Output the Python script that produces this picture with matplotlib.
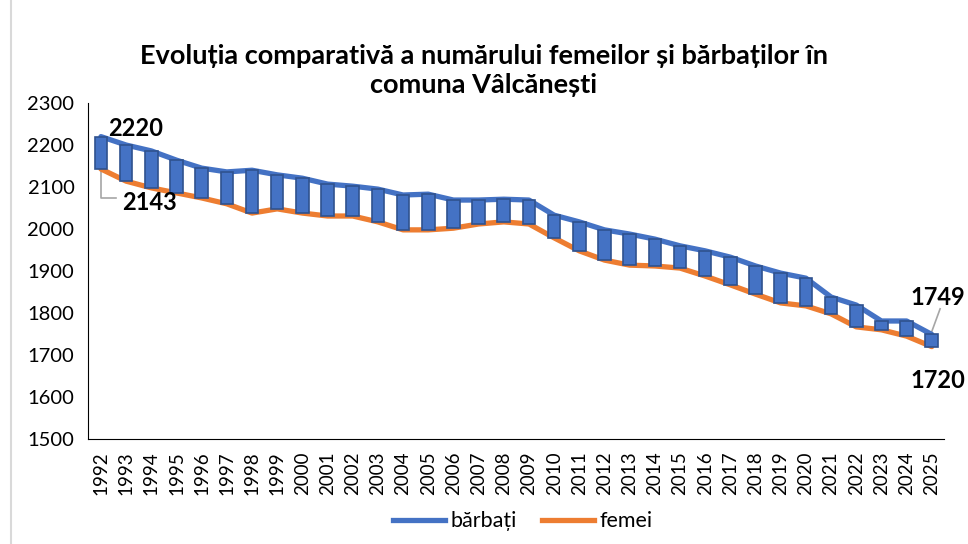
import numpy as np
import matplotlib.pyplot as plt
from matplotlib.lines import Line2D
from matplotlib.patches import Rectangle

plt.rcParams['font.family'] = ['Lato', 'DejaVu Sans']

# date
ani = list(range(1992, 2026))
barbati = [2220, 2200, 2186, 2164, 2145, 2136, 2140, 2129, 2121, 2107, 2102, 2095,
           2081, 2083, 2069, 2069, 2071, 2069, 2033, 2017, 1998, 1988, 1976, 1960,
           1948, 1933, 1912, 1895, 1883, 1838, 1819, 1781, 1781, 1749]
femei = [2143, 2114, 2098, 2086, 2074, 2060, 2038, 2048, 2038, 2031, 2031, 2017,
         1998, 1998, 2002, 2012, 2017, 2012, 1979, 1948, 1926, 1914, 1912, 1907,
         1888, 1867, 1845, 1824, 1817, 1798, 1767, 1760, 1745, 1720]

albastru = '#4472C4'
portocaliu = '#ED7D31'

fig = plt.figure(figsize=(9.68, 5.44), dpi=100)
ax = fig.add_axes([0.0913, 0.193, 0.8843, 0.6176])

x = np.arange(len(ani))
ax.plot(x, barbati, color=albastru, lw=3.8, solid_capstyle='round', zorder=2)
ax.plot(x, femei, color=portocaliu, lw=3.8, solid_capstyle='round', zorder=2)

# bare up/down intre cele doua serii
b = np.array(barbati)
f = np.array(femei)
ax.bar(x, b - f, bottom=f, width=0.5, color=albastru, edgecolor='#2F528F', lw=1.2, zorder=3)

ax.set_xlim(-0.5, len(ani) - 0.5)
ax.set_ylim(1500, 2300)
ax.set_yticks(range(1500, 2301, 100))
ax.set_xticks(x)
ax.set_xticklabels(ani, rotation=90, fontsize=13.5)
ax.tick_params(axis='y', labelsize=14.5, length=0, pad=10)
ax.tick_params(axis='x', length=0, pad=9)
ax.spines['top'].set_visible(False)
ax.spines['right'].set_visible(False)
ax.spines['left'].set_color('black')
ax.spines['bottom'].set_color('black')

# etichete
ax.text(0.28, 2240, '2220', fontsize=17, fontweight='bold', va='center', ha='left')
ax.plot([0, 0, 0.6], [femei[0], 2074, 2074], color='#A6A6A6', lw=1.2, zorder=1)
ax.text(0.83, 2062, '2143', fontsize=17, fontweight='bold', va='center', ha='left')
ax.plot([33, 33.33], [1756, 1810], color='#A6A6A6', lw=1.2, zorder=1)
ax.text(32.15, 1838, '1749', fontsize=17, fontweight='bold', va='center', ha='left')
ax.text(32.15, 1640, '1720', fontsize=17, fontweight='bold', va='center', ha='left')

fig.text(0.5, 0.871, 'Evoluția comparativă a numărului femeilor și bărbaților în\ncomuna Vâlcănești',
         ha='center', va='center', fontsize=19.5, fontweight='bold', linespacing=1.25)

handles = [Line2D([], [], color=albastru, lw=3.8), Line2D([], [], color=portocaliu, lw=3.8)]
fig.legend(handles, ['bărbați', 'femei'], loc='center', bbox_to_anchor=(0.54, 0.042),
           ncol=2, frameon=False, fontsize=15.5, handlelength=2.4, handletextpad=0.25,
           columnspacing=1.2)

# chenarul graficului
fig.patches.append(Rectangle((0.011, -0.01), 1.2, 1.2, transform=fig.transFigure,
                             fill=False, edgecolor='#D9D9D9', lw=1.5))

fig.savefig('out.png', dpi=100)
